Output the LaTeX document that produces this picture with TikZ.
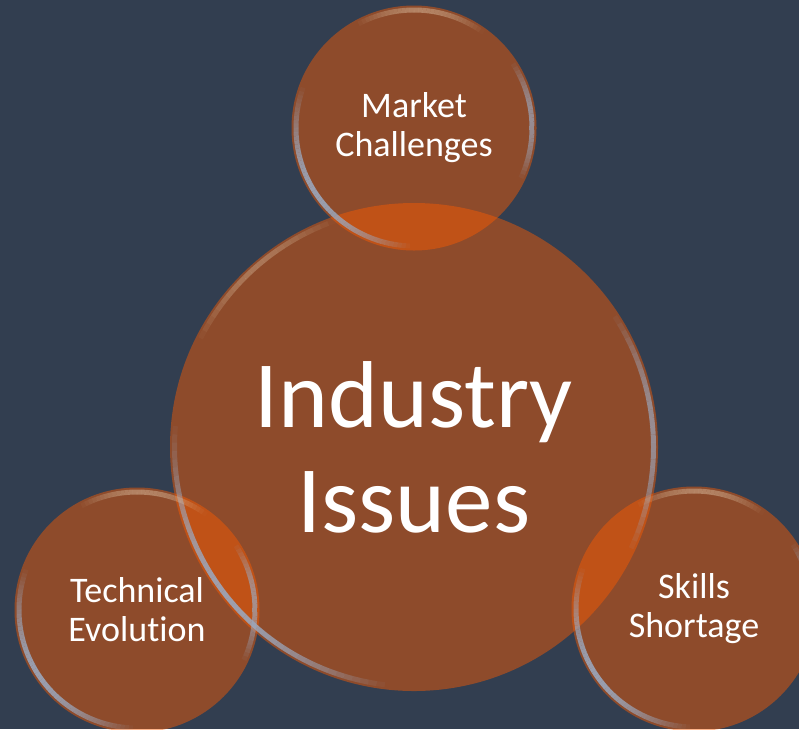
\documentclass[tikz,border=0pt]{standalone}
\usepackage{fontspec}
\setmainfont{Carlito}[Ligatures=NoCommon]
\usetikzlibrary{calc}
\definecolor{bg}{RGB}{50,62,80}
\definecolor{orng}{RGB}{254,91,0}
\definecolor{rimc}{RGB}{155,168,190}
\definecolor{rimh}{RGB}{225,200,170}
\tikzset{
  bubble/.style={circle, fill=orng, fill opacity=0.45, draw=none, inner sep=0pt},
  bigtxt/.style={text=white, align=center, font=\fontsize{95}{105}\selectfont},
  smalltxt/.style={text=white, align=center, font=\fontsize{36}{39}\selectfont},
  rim/.style={line width=5pt, line cap=butt},
}
\newcommand\rimarc[6]{% node, radius, start, end, peak opacity, colour
  \pgfmathtruncatemacro\rimB{#3+2}%
  \foreach \a in {#3,\rimB,...,#4}{%
    \pgfmathsetmacro\rimO{#5*sin((\a-(#3))/((#4)-(#3))*180)}%
    \draw[rim, draw=#6, draw opacity=\rimO] ($(#1)+(\a:#2)$) arc[start angle=\a, end angle=\a+2, radius=#2];
  }}
\begin{document}
\begin{tikzpicture}[x=1pt,y=-1pt]
  \fill[bg] (0,0) rectangle (799,729);
  \useasboundingbox (0,0) rectangle (799,729);
  \clip (0,0) rectangle (799,729);
  % bubbles
  \node[bubble, minimum size=488] (cI) at (414,447) {};
  \node[bubble, minimum size=245] (cM) at (414,128) {};
  \node[bubble, minimum size=245] (cT) at (137,610) {};
  \node[bubble, minimum size=245] (cS) at (694,609) {};
  % glassy rims
  \rimarc{cI}{239.5}{95}{185}{0.9}{rimc}
  \rimarc{cI}{239.5}{-35}{25}{0.7}{rimc}
  \rimarc{cI}{239.5}{-155}{-110}{0.35}{rimh}
  \rimarc{cM}{118}{90}{200}{0.9}{rimc}
  \rimarc{cM}{118}{-35}{25}{0.7}{rimc}
  \rimarc{cM}{118}{-120}{-55}{0.45}{rimh}
  \rimarc{cT}{118}{90}{200}{0.9}{rimc}
  \rimarc{cT}{118}{-35}{25}{0.7}{rimc}
  \rimarc{cT}{118}{-120}{-55}{0.45}{rimh}
  \rimarc{cS}{118}{90}{200}{0.9}{rimc}
  \rimarc{cS}{118}{-35}{25}{0.7}{rimc}
  \rimarc{cS}{118}{-120}{-55}{0.45}{rimh}
  % texts
  \node[bigtxt] (tI) at (cI.center) {Industry\\Issues};
  \node[smalltxt] (tM) at (cM.center) {Market\\Challenges};
  \node[smalltxt] (tT) at (cT.center) {Technical\\Evolution};
  \node[smalltxt] (tS) at (cS.center) {Skills\\Shortage};
\end{tikzpicture}
\end{document}
